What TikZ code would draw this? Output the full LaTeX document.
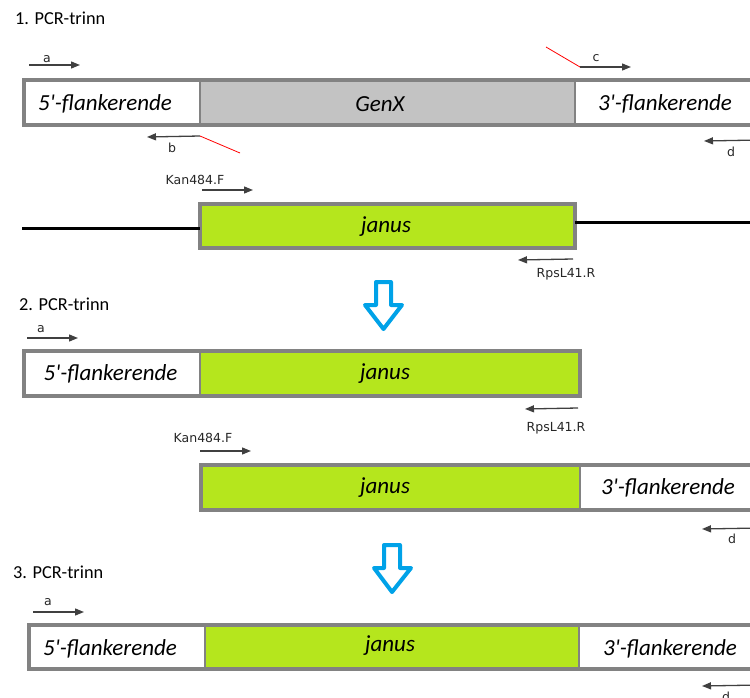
\documentclass[tikz,border=0pt]{standalone}
\usepackage{fontspec}
\setmainfont{Carlito}[Ligatures=TeXOff]
\newfontfamily\primerfont{DejaVu Sans}
\usetikzlibrary{arrows.meta}

\definecolor{framegray}{HTML}{828282}
\definecolor{genxgray}{HTML}{C3C3C3}
\definecolor{janusgreen}{HTML}{B5E61D}
\definecolor{stepblue}{HTML}{00A2E8}

\tikzset{
  seg/.style={rectangle, draw=none, inner sep=0pt, outer sep=0pt, minimum height=#1},
  seg/.default=45pt,
  frame/.style={draw=framegray, line width=4pt},
  divider/.style={draw=framegray, line width=1.3pt},
  region/.style={font=\fontsize{23}{26}\selectfont\itshape, inner sep=0pt, anchor=center},
  heading/.style={font=\fontsize{18.3}{21}\selectfont, inner sep=0pt, anchor=base west},
  plabel/.style={font=\primerfont\fontsize{12.5}{14}\selectfont, text=black!85, inner sep=0pt, anchor=base},
  primer/.style={draw=black!75, line width=1.3pt, -{Triangle[length=9pt,width=7pt]}},
  tail/.style={draw=red, line width=0.8pt},
  dna/.style={draw=black, line width=3pt},
  downarrow/.style={draw=stepblue, line width=4pt, fill=white, line join=round},
}

\begin{document}
\begin{tikzpicture}[x=1pt, y=-1pt]
\useasboundingbox (0,0) rectangle (750,698);
\clip (0,0) rectangle (750,698);

% ---------- step 1: wild-type locus with GenX ----------
\node[heading] (h1) at (15,25) {1. PCR-trinn};

\node[seg, fill=white, minimum width=176pt] (r1a) at (112,102.5) {};
\node[seg, fill=genxgray, minimum width=375pt] (r1b) at (387.5,102.5) {};
\node[seg, fill=white, minimum width=185pt] (r1c) at (667.5,102.5) {};
\draw[divider] (r1a.north east) -- (r1a.south east);
\draw[divider] (r1b.north east) -- (r1b.south east);
\draw[frame] (r1a.north west) rectangle (r1c.south east);
\node[region] (t1a) at (105,104) {5'-flankerende};
\node[region] (t1b) at (380,104) {GenX};
\node[region] (t1c) at (665,104) {3'-flankerende};

% primers a, b, c, d
\coordinate (a1s) at (29,65);   \coordinate (a1e) at (80,65);
\draw[primer] (a1s) -- (a1e);
\node[plabel] (la1) at (47,62.5) {a};

\coordinate (b1s) at (200,136); \coordinate (b1e) at (147,137);
\coordinate (b1t) at (240,153);
\draw[primer] (b1s) -- (b1e);
\draw[tail] (b1s) -- (b1t);
\node[plabel] (lb1) at (172,153) {b};

\coordinate (c1s) at (580,67);  \coordinate (c1e) at (631,67);
\coordinate (c1t) at (546,47);
\draw[primer] (c1s) -- (c1e);
\draw[tail] (c1t) -- (c1s);
\node[plabel] (lc1) at (596,62) {c};

\coordinate (d1s) at (760,140); \coordinate (d1e) at (704,141);
\draw[primer] (d1s) -- (d1e);
\node[plabel] (ld1) at (731,157) {d};

% ---------- janus cassette ----------
\node[seg=44pt, fill=janusgreen, frame, minimum width=375pt] (jan1) at (387.5,226) {};
\node[region] (tj1) at (386,227) {janus};
\coordinate (dnaL) at (22,228);
\coordinate (dnaR) at (760,222);
\draw[dna] (dnaL) -- (dnaL -| jan1.west);
\draw[dna] (jan1.east |- dnaR) -- (dnaR);

\coordinate (k1s) at (202,190); \coordinate (k1e) at (253,190);
\draw[primer] (k1s) -- (k1e);
\node[plabel] (lk1) at (195,185) {Kan484.F};

\coordinate (p1s) at (573,259); \coordinate (p1e) at (518,260);
\draw[primer] (p1s) -- (p1e);
\node[plabel] (lp1) at (566,277) {RpsL41.R};

% step arrow
\draw[downarrow] (376,282) -- (391,282) -- (391,305) -- (402,305)
  -- (383.5,329) -- (365,305) -- (376,305) -- cycle;

% ---------- step 2: two fusion fragments ----------
\node[heading] (h2) at (19,310) {2. PCR-trinn};

\coordinate (a2s) at (27,338);  \coordinate (a2e) at (78,338);
\draw[primer] (a2s) -- (a2e);
\node[plabel] (la2) at (41,332) {a};

\node[seg, fill=white, minimum width=176pt] (r3a) at (112,373.5) {};
\node[seg, fill=janusgreen, minimum width=380pt] (r3b) at (390,373.5) {};
\draw[divider] (r3a.north east) -- (r3a.south east);
\draw[frame] (r3a.north west) rectangle (r3b.south east);
\node[region] (t3a) at (110.5,374) {5'-flankerende};
\node[region] (t3b) at (385,374) {janus};

\coordinate (p2s) at (578,408); \coordinate (p2e) at (525,409);
\draw[primer] (p2s) -- (p2e);
\node[plabel] (lp2) at (556,431) {RpsL41.R};

\coordinate (k2s) at (200,451); \coordinate (k2e) at (251,451);
\draw[primer] (k2s) -- (k2e);
\node[plabel] (lk2) at (203,442) {Kan484.F};

\node[seg, fill=janusgreen, minimum width=379pt] (r4a) at (390.5,487.5) {};
\node[seg, fill=white, minimum width=180pt] (r4b) at (670,487.5) {};
\draw[divider] (r4a.north east) -- (r4a.south east);
\draw[frame] (r4a.north west) rectangle (r4b.south east);
\node[region] (t4a) at (385,488) {janus};
\node[region] (t4b) at (668,488) {3'-flankerende};

\coordinate (d2s) at (760,528); \coordinate (d2e) at (702,529);
\draw[primer] (d2s) -- (d2e);
\node[plabel] (ld2) at (732,543) {d};

% step arrow
\draw[downarrow] (384,545) -- (400,545) -- (400,568) -- (411,568)
  -- (392,592) -- (374,568) -- (384,568) -- cycle;

% ---------- step 3: final construct ----------
\node[heading] (h3) at (13,578) {3. PCR-trinn};

\coordinate (a3s) at (33,612);  \coordinate (a3e) at (84,612);
\draw[primer] (a3s) -- (a3e);
\node[plabel] (la3) at (48,605) {a};

\node[seg=44pt, fill=white, minimum width=176pt] (r5a) at (117,647) {};
\node[seg=44pt, fill=janusgreen, minimum width=374pt] (r5b) at (392,647) {};
\node[seg=44pt, fill=white, minimum width=181pt] (r5c) at (669.5,647) {};
\draw[divider] (r5a.north east) -- (r5a.south east);
\draw[divider] (r5b.north east) -- (r5b.south east);
\draw[frame] (r5a.north west) rectangle (r5c.south east);
\node[region] (t5a) at (110,649) {5'-flankerende};
\node[region] (t5b) at (390,646) {janus};
\node[region] (t5c) at (670,649) {3'-flankerende};

\coordinate (d3s) at (760,685); \coordinate (d3e) at (702,686);
\draw[primer] (d3s) -- (d3e);
\node[plabel] (ld3) at (726,701) {d};

\end{tikzpicture}
\end{document}
